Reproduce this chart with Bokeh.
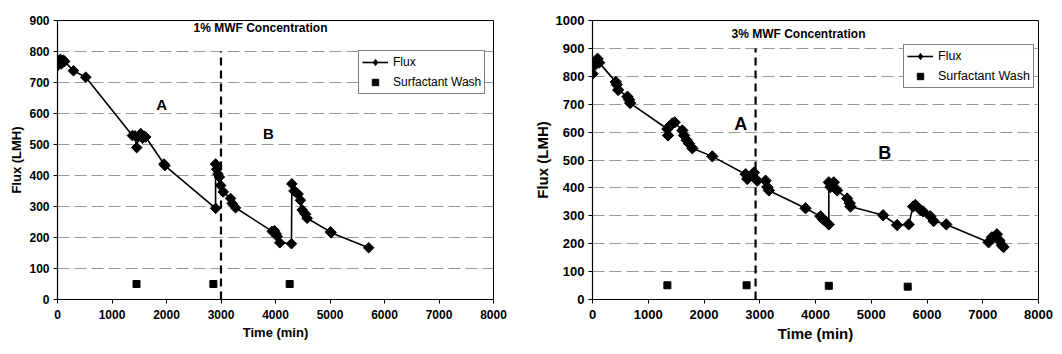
import math
from bokeh.plotting import figure
from bokeh.layouts import row
from bokeh.models import Label, Legend, LegendItem, FixedTicker, Range1d
from bokeh.embed import file_html
from bokeh.resources import INLINE

# ---------- data: panel 1 (1% MWF) ----------
t1 = [0, 30, 50, 70, 90, 110, 130, 293, 519, 1374, 1420, 1453, 1480, 1527, 1560, 1588,
      1618, 1954, 1970, 2901, 2900, 2920, 2944, 2970, 2992, 3041, 3175, 3206, 3267,
      3939, 3982, 4010, 4031, 4079, 4293, 4300, 4340, 4366, 4415, 4458, 4489, 4531,
      4550, 4580, 5008, 5020, 5710]
f1 = [754, 765, 775, 760, 770, 772, 768, 738, 717, 529, 528, 490, 525, 535, 520, 527,
      524, 437, 432, 294, 437, 420, 405, 395, 368, 347, 326, 310, 296,
      220, 222, 212, 204, 183, 180, 373, 350, 347, 340, 320, 289, 278,
      275, 262, 218, 215, 167]
wash_t1 = [1450, 2860, 4260]
wash_f1 = [50, 50, 50]
divider_x1 = 3000
divider_top1 = 800
labA1 = (1910, 630)
labB1 = (3870, 535)

# ---------- data: panel 2 (3% MWF) ----------
t2 = [0, 30, 60, 90, 119, 418, 436, 460, 627, 657, 675, 1343, 1355, 1391, 1433, 1475,
      1612, 1642, 1690, 1731, 1791, 2149, 2746, 2776, 2866, 2896, 2955, 3104, 3134,
      3164, 3821, 4090, 4137, 4179, 4239, 4239, 4269, 4328, 4388, 4567, 4615, 4627,
      5212, 5463, 5672, 5749, 5791, 5881, 5928, 6060, 6119, 6346, 7104, 7164, 7254,
      7301, 7343, 7373]
f2 = [809, 838, 849, 863, 849, 780, 770, 751, 727, 716, 704, 611, 588, 623, 631, 635,
      606, 588, 571, 559, 542, 513, 449, 432, 443, 455, 426, 426, 403,
      391, 327, 298, 287, 281, 269, 420, 403, 420, 391, 362, 345, 333,
      302, 267, 269, 333, 339, 321, 316, 298, 281, 269, 205, 223, 234,
      211, 194, 188]
wash_t2 = [1343, 2764, 4239, 5654]
wash_f2 = [51, 51, 49, 46]
divider_x2 = 2925
divider_top2 = 900
labA2 = (2660, 630)
labB2 = (5240, 525)

x_ticks = [0, 1000, 2000, 3000, 4000, 5000, 6000, 7000, 8000]

FONT = "Liberation Sans"


def make_panel(width, borders, ymax, t, f, wt, wf, dx, dtop, dbot, labA, labB, title, tpos,
               tick_fs, title_fs, ax_fs, ab_fs, leg_loc, leg_fs, mk):
    left, right, top, bottom = borders
    p = figure(width=width, height=354, output_backend="svg", toolbar_location=None,
               x_range=Range1d(0, 8000), y_range=Range1d(0, ymax),
               min_border_left=left, min_border_right=right,
               min_border_top=top, min_border_bottom=bottom)
    p.background_fill_color = "white"
    p.border_fill_color = "white"
    p.outline_line_color = "black"
    p.outline_line_width = 1
    p.xgrid.visible = False
    p.ygrid.grid_line_color = "#999999"
    p.ygrid.grid_line_dash = "12 5"
    p.ygrid.grid_line_width = 1
    p.ygrid.ticker = FixedTicker(ticks=list(range(0, ymax + 1, 100)))

    p.xaxis.ticker = FixedTicker(ticks=x_ticks)
    p.yaxis.ticker = FixedTicker(ticks=list(range(0, ymax + 1, 100)))
    for ax in (p.xaxis[0], p.yaxis[0]):
        ax.axis_line_color = "black"
        ax.axis_line_width = 1.2
        ax.major_tick_line_color = "black"
        ax.major_tick_out = 4
        ax.major_tick_in = 0
        ax.minor_tick_line_color = None
        ax.major_label_text_font = FONT
        ax.major_label_text_font_style = "bold"
        ax.major_label_text_font_size = f"{tick_fs}px"
        ax.major_label_text_color = "black"
        ax.axis_label_text_font = FONT
        ax.axis_label_text_font_style = "bold"
        ax.axis_label_text_font_size = f"{ax_fs}px"
        ax.axis_label_text_color = "black"
    p.xaxis.axis_label = "Time (min)"
    p.yaxis.axis_label = "Flux (LMH)"
    p.xaxis.major_label_standoff = 6
    p.xaxis.axis_label_standoff = 3
    p.yaxis.major_label_standoff = 4
    p.yaxis.axis_label_standoff = 2

    # dashed divider
    p.segment(x0=[dx], y0=[dbot], x1=[dx], y1=[dtop], line_color="black",
              line_width=2.2, line_dash="8 5")

    lr = p.line(t, f, line_color="black", line_width=1.6)
    p.scatter(t, f, marker="square", angle=math.pi / 4, size=mk, color="black")
    # legend-only diamond glyph (a single NaN point, never drawn in the plot)
    dr = p.scatter([float("nan")], [float("nan")], marker="diamond", size=mk * 1.45,
                   color="black")
    wr = p.scatter(wt, wf, marker="square", size=7, color="black")

    leg = Legend(items=[LegendItem(label="Flux", renderers=[lr, dr]),
                        LegendItem(label="Surfactant Wash", renderers=[wr])],
                 location=leg_loc)
    leg.label_text_font = FONT
    leg.label_text_font_size = f"{leg_fs}px"
    leg.label_text_color = "black"
    leg.border_line_color = "black"
    leg.border_line_width = 1
    leg.background_fill_color = "white"
    leg.glyph_width = 26
    leg.glyph_height = 16
    leg.label_height = 16
    leg.label_standoff = 5
    leg.padding = 3
    leg.spacing = 4
    leg.margin = 0
    p.add_layout(leg)

    p.add_layout(Label(x=tpos[0], y=tpos[1], text=title, text_font=FONT,
                       text_font_style="bold", text_font_size=f"{title_fs}px",
                       text_align="center", text_baseline="middle", text_color="black"))
    for txt, pos in (("A", labA), ("B", labB)):
        p.add_layout(Label(x=pos[0], y=pos[1], text=txt, text_font=FONT,
                           text_font_style="bold", text_font_size=f"{ab_fs}px",
                           text_align="center", text_baseline="middle", text_color="black"))
    return p


p1 = make_panel(530, (57, 37, 16, 55), 900, t1, f1, wash_t1, wash_f1, divider_x1,
                divider_top1, 0, labA1, labB1, "1% MWF Concentration", (3725, 875),
                12, 12, 13, 15, (301, 205), 12, 7.5)
p2 = make_panel(532, (62, 24, 20, 47), 1000, t2, f2, wash_t2, wash_f2, divider_x2,
                divider_top2, 0, labA2, labB2, "3% MWF Concentration", (3695, 950),
                13, 12, 15, 18, (311, 211), 12.5, 8)

layout = row(p1, p2, spacing=0)
open("out.html", "w").write(file_html(layout, INLINE))
